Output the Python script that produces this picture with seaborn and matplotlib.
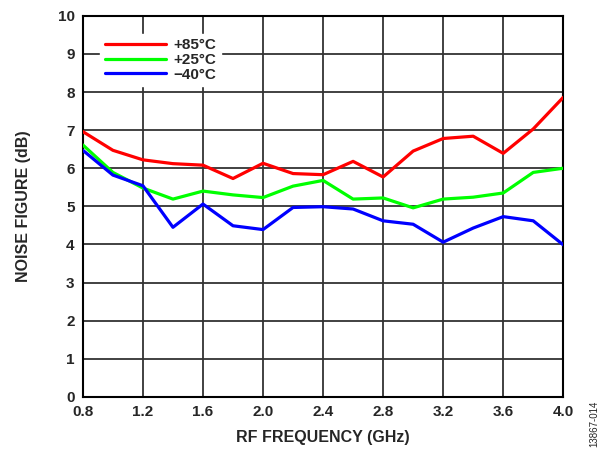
import numpy as np
import pandas as pd
import seaborn as sns
import matplotlib.pyplot as plt

# data
freq = [0.8, 1.0, 1.2, 1.4, 1.6, 1.8, 2.0, 2.2, 2.4, 2.6, 2.8, 3.0, 3.2, 3.4, 3.6, 3.8, 4.0]
nf_85 = [6.96, 6.47, 6.22, 6.12, 6.08, 5.73, 6.13, 5.86, 5.83, 6.18, 5.77, 6.45, 6.78, 6.84, 6.39, 7.03, 7.86]
nf_25 = [6.61, 5.89, 5.48, 5.19, 5.40, 5.30, 5.23, 5.53, 5.68, 5.19, 5.22, 4.96, 5.19, 5.24, 5.35, 5.89, 6.00]
nf_m40 = [6.47, 5.82, 5.54, 4.45, 5.06, 4.49, 4.39, 4.97, 4.99, 4.93, 4.62, 4.53, 4.06, 4.43, 4.73, 4.62, 3.99]
temps = ["+85°C", "+25°C", "\u221240°C"]
colors = ["#ff0000", "#00ff00", "#0000ff"]

df = pd.DataFrame({
    "freq": freq * 3,
    "nf": nf_85 + nf_25 + nf_m40,
    "temp": [t for t in temps for _ in freq],
})

sns.set_style("white")
plt.rcParams["font.family"] = ["Liberation Sans", "DejaVu Sans"]

fig = plt.figure(figsize=(6.05, 4.51), dpi=100)
ax = fig.add_axes([0.137, 0.120, 0.794, 0.845])
sns.lineplot(data=df, x="freq", y="nf", hue="temp", hue_order=temps,
             palette=colors, linewidth=2.3, ax=ax, zorder=3)

ax.set_xlim(0.8, 4.0)
ax.set_ylim(0, 10)
ax.set_xticks(np.arange(0.8, 4.01, 0.4))
ax.set_xticklabels([f"{v:.1f}" for v in np.arange(0.8, 4.01, 0.4)])
ax.set_yticks(range(0, 11))
ax.grid(True, color="#333333", linewidth=1.3)
ax.tick_params(length=0, labelsize=11, pad=6)
for lab in ax.get_xticklabels() + ax.get_yticklabels():
    lab.set_fontweight("bold")
for s in ax.spines.values():
    s.set_visible(True)
    s.set_color("black")
    s.set_linewidth(1.5)

ax.set_xlabel("RF FREQUENCY (GHz)", fontsize=11.5, fontweight="bold", labelpad=8)
ax.set_ylabel("NOISE FIGURE (dB)", fontsize=11.5, fontweight="bold", labelpad=19)

leg = ax.legend(loc="upper left", bbox_to_anchor=(0.02, 0.973),
                frameon=True, fancybox=False, framealpha=1, edgecolor="white",
                handlelength=4, labelspacing=0.05, borderpad=0.3, handletextpad=0.5,
                prop={"weight": "bold", "size": 11})
for line in leg.get_lines():
    line.set_linewidth(2.3)

fig.text(0.983, 0.06, "13867-014", rotation=90, fontsize=7, ha="center", va="center")

plt.savefig("out.png", dpi=100)
